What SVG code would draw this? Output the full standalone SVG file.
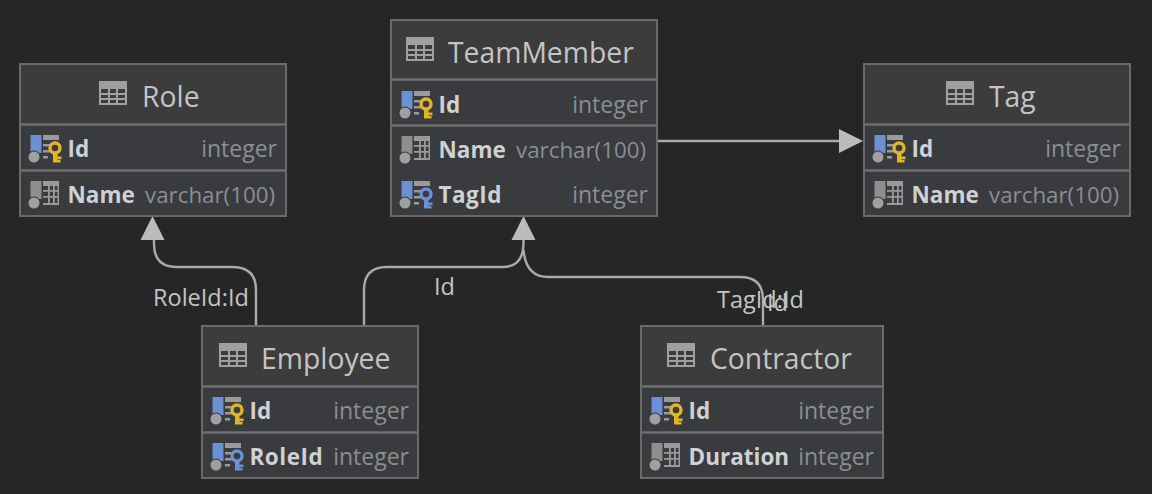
<svg xmlns="http://www.w3.org/2000/svg" width="1152" height="494" viewBox="0 0 1152 494">
<style>
.hd{fill:#3c3c3c}.bd{fill:#393b3e}
.fr{fill:none;stroke:#6a6a6a;stroke-width:2}
.sep{stroke:#6f6f6f;stroke-width:2.5}
.title{font:28.3px "Open Sans","Noto Sans",sans-serif;fill:#c4c4c4}
.n{font:bold 22.5px "Open Sans","Noto Sans",sans-serif;fill:#cfd1d3}
.t{font:23px "Open Sans","Noto Sans",sans-serif;fill:#8b8e92;text-anchor:end}
.v{font-size:22.3px}
.lb{font:23.5px "Open Sans","Noto Sans",sans-serif;fill:#c4c4c4}
.cn{fill:none;stroke:#aaa;stroke-width:2.4}
.ah{fill:#bcbcbc}
</style>
<defs>
<g id="tbl"><path fill="#a0a0a0" fill-rule="evenodd" d="M0 0h28v24H0zM2 8v4h7V8zm9 0v4h6V8zm8 0v4h7V8zM2 14v3h7v-3zm9 0v3h6v-3zm8 0v3h7v-3zM2 19v3h7v-3zm9 0v3h6v-3zm8 0v3h7v-3z"/></g>
<g id="base"><path d="M14 0h16v5H14zM14 9h7v2.500h-7zM14 15h7v2.500h-7zM14 21h5v2.500h-5z" fill="#9a9a9a"/></g>
<g id="keyic"><use href="#base"/><rect x="1.500" y="0" width="11" height="18" fill="#6d8fd3"/><circle cx="5" cy="22" r="6.500" fill="#393b3e"/><circle cx="5" cy="22" r="5.500" fill="#a0a0a0"/></g>
<g id="ykey"><circle cx="26" cy="13" r="5" fill="#393b3e" stroke="#e0b528" stroke-width="3.400"/><path d="M24 17h4.500v10.500H24zM28 21.500h4.500v2.800H28zM28 25h3.500v2.500H28z" fill="#e0b528"/></g>
<g id="bkey"><circle cx="26" cy="13" r="5" fill="#393b3e" stroke="#6d8fd3" stroke-width="3.400"/><path d="M24 17h4.500v10.500H24zM28 21.500h4.500v2.800H28zM28 25h3.500v2.500H28z" fill="#6d8fd3"/></g>
<g id="plain"><rect x="1.500" y="0" width="11" height="18" fill="#8e8e8e"/><circle cx="5" cy="22" r="6.500" fill="#393b3e"/><circle cx="5" cy="22" r="5.500" fill="#a0a0a0"/><path d="M19 0h11v5H19zM19 5h1.800v19H19zM24 5h1.800v19H24zM28.500 5h1.500v19h-1.500zM14 9h16v1.800H14zM14 15h16v1.800H14zM14 22h16v2H14zM14 0h5v5h-5z" fill="#9a9a9a"/></g>
</defs>
<rect width="1152" height="494" fill="#262626"/>

<g id="connectors">
<path class="cn" d="M256 325V290Q256 267 232 267H177Q154 267 154 244V238"/>
<path class="ah" d="M152.500 216L164.500 240H140.500Z"/>
<path class="cn" d="M364 325V290Q364 267 387 267H503Q523 267 523.500 244V238"/>
<path class="cn" d="M763 325V300Q763 277 740 277H548Q526 277 523.500 250"/>
<path class="ah" d="M523.500 216L535.500 240H511.500Z"/>
<path class="cn" d="M657 141H840"/>
<path class="ah" d="M863 141L839 129V153Z"/>
<text class="lb" x="153" y="306">RoleId:Id</text>
<text class="lb" x="434" y="295">Id</text>
<text class="lb" x="717" y="308">TagId:Id</text>
<text class="lb" x="767" y="311">Id</text>
</g>

<g id="Role">
<rect class="hd" x="20" y="64" width="266" height="60"/><rect class="bd" x="20" y="124" width="266" height="92"/>
<rect class="fr" x="20" y="64" width="266" height="152"/>
<path class="sep" d="M20 124.500H286M20 170.500H286"/>
<use href="#tbl" x="99" y="81"/><text class="title" x="142" y="107">Role</text>
<use href="#keyic" x="29" y="135"/><use href="#ykey" x="29" y="135"/><text class="n" x="67.500" y="157">Id</text><text class="t" x="277" y="157">integer</text>
<use href="#plain" x="29" y="181"/><text class="n" x="67.500" y="203">Name</text><text class="t v" x="275" y="203">varchar(100)</text>
</g>

<g id="TeamMember">
<rect class="hd" x="391" y="20" width="266" height="60"/><rect class="bd" x="391" y="80" width="266" height="136"/>
<rect class="fr" x="391" y="20" width="266" height="196"/>
<path class="sep" d="M391 79.500H657M391 125.500H657"/>
<use href="#tbl" x="406" y="37"/><text class="title" x="448" y="63">TeamMember</text>
<use href="#keyic" x="400" y="91"/><use href="#ykey" x="400" y="91"/><text class="n" x="438.500" y="113">Id</text><text class="t" x="648" y="113">integer</text>
<use href="#plain" x="400" y="136"/><text class="n" x="438.500" y="158">Name</text><text class="t v" x="646" y="158">varchar(100)</text>
<use href="#keyic" x="400" y="181"/><use href="#bkey" x="400" y="181"/><text class="n" x="438.500" y="203" style="letter-spacing:.5px">TagId</text><text class="t" x="648" y="203">integer</text>
</g>

<g id="Tag">
<rect class="hd" x="864" y="64" width="266" height="60"/><rect class="bd" x="864" y="124" width="266" height="92"/>
<rect class="fr" x="864" y="64" width="266" height="152"/>
<path class="sep" d="M864 124.500H1130M864 170.500H1130"/>
<use href="#tbl" x="946" y="81"/><text class="title" x="989" y="107">Tag</text>
<use href="#keyic" x="873" y="135"/><use href="#ykey" x="873" y="135"/><text class="n" x="911.500" y="157">Id</text><text class="t" x="1121" y="157">integer</text>
<use href="#plain" x="873" y="181"/><text class="n" x="911.500" y="203">Name</text><text class="t v" x="1119" y="203">varchar(100)</text>
</g>

<g id="Employee">
<rect class="hd" x="202" y="326" width="216" height="60"/><rect class="bd" x="202" y="386" width="216" height="92"/>
<rect class="fr" x="202" y="326" width="216" height="152"/>
<path class="sep" d="M202 386.500H418M202 432.500H418"/>
<use href="#tbl" x="219" y="343"/><text class="title" x="261" y="369">Employee</text>
<use href="#keyic" x="211" y="397"/><use href="#ykey" x="211" y="397"/><text class="n" x="249.500" y="419">Id</text><text class="t" x="409" y="419">integer</text>
<use href="#keyic" x="211" y="443"/><use href="#bkey" x="211" y="443"/><text class="n" x="249.500" y="465" style="letter-spacing:.5px">RoleId</text><text class="t" x="409" y="465">integer</text>
</g>

<g id="Contractor">
<rect class="hd" x="641" y="326" width="242" height="60"/><rect class="bd" x="641" y="386" width="242" height="92"/>
<rect class="fr" x="641" y="326" width="242" height="152"/>
<path class="sep" d="M641 386.500H883M641 432.500H883"/>
<use href="#tbl" x="667" y="343"/><text class="title" x="710" y="369">Contractor</text>
<use href="#keyic" x="650" y="397"/><use href="#ykey" x="650" y="397"/><text class="n" x="688.500" y="419">Id</text><text class="t" x="874" y="419">integer</text>
<use href="#plain" x="650" y="443"/><text class="n" x="688.500" y="465">Duration</text><text class="t" x="874" y="465">integer</text>
</g>
</svg>
